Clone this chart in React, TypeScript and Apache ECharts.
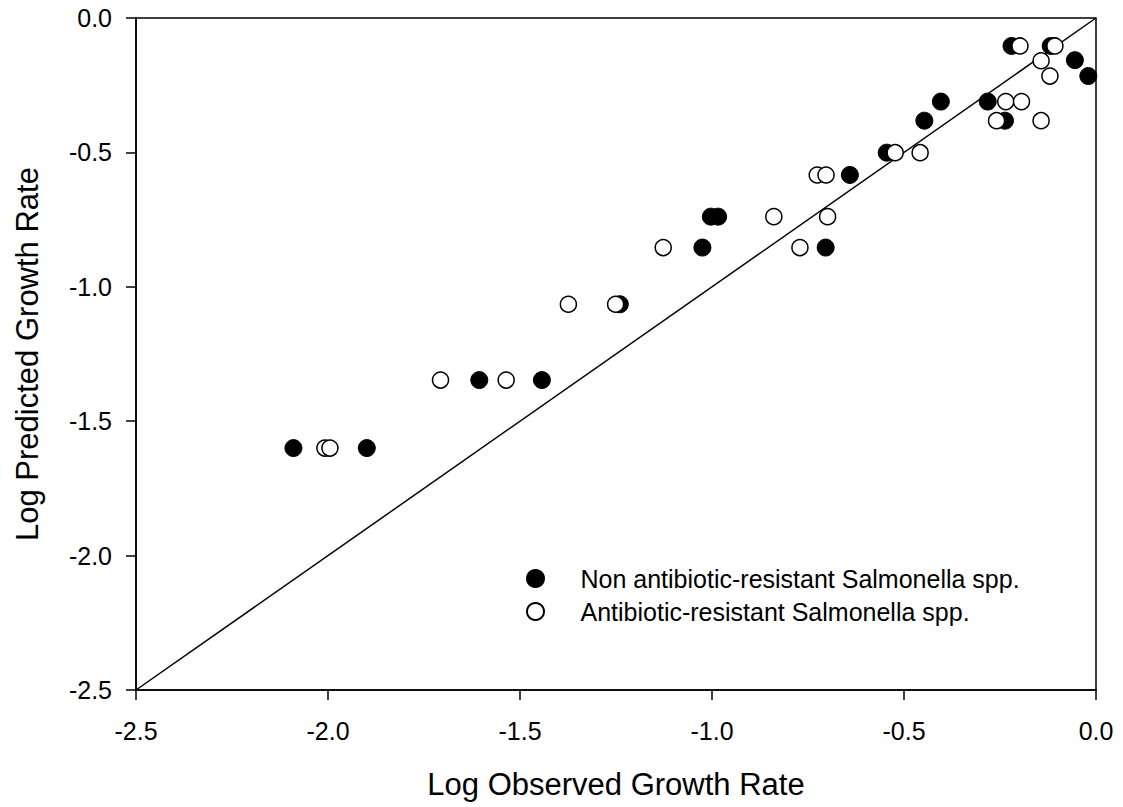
import React, { useEffect, useRef } from "react";
import * as echarts from "echarts";

const nonResistantX = [-2.09, -1.899, -1.606, -1.443, -1.24, -1.025, -0.704, -1.003, -0.984, -0.641, -0.545, -0.447, -0.237, -0.404, -0.282, -0.22, -0.118, -0.055, -0.02];
const nonResistantY = [-1.6, -1.6, -1.347, -1.347, -1.065, -0.854, -0.854, -0.739, -0.739, -0.584, -0.501, -0.382, -0.382, -0.311, -0.311, -0.104, -0.104, -0.157, -0.216];

const resistantX = [-2.008, -1.995, -1.707, -1.536, -1.374, -1.251, -1.127, -0.771, -0.839, -0.699, -0.726, -0.703, -0.523, -0.458, -0.259, -0.143, -0.235, -0.194, -0.12, -0.143, -0.198, -0.107];
const resistantY = [-1.6, -1.6, -1.347, -1.347, -1.065, -1.065, -0.854, -0.854, -0.739, -0.739, -0.584, -0.584, -0.501, -0.501, -0.382, -0.382, -0.311, -0.311, -0.216, -0.159, -0.104, -0.104];

const identityLine = [-2.5, 0];

const seriesNames = ["Non antibiotic-resistant Salmonella spp.", "Antibiotic-resistant Salmonella spp."];
const xTitle = "Log Observed Growth Rate";
const yTitle = "Log Predicted Growth Rate";

const FONT = "Liberation Sans, Arial, sans-serif";

export default function App() {
  const ref = useRef<HTMLDivElement>(null);
  useEffect(() => {
    if (!ref.current) return;
    const chart = echarts.init(ref.current, undefined, { renderer: "svg" });
    const axisCommon = {
      min: -2.5,
      max: 0,
      interval: 0.5,
      axisLine: { show: true, onZero: false, lineStyle: { color: "#000", width: 1.5 } },
      axisTick: { show: true, inside: false, length: 10, lineStyle: { color: "#000", width: 1.5 } },
      splitLine: { show: false },
      nameLocation: "middle" as const,
      nameTextStyle: { color: "#000", fontSize: 31, fontFamily: FONT },
    };
    const labelCommon = {
      color: "#000",
      fontSize: 25,
      fontFamily: FONT,
      formatter: (v: number) => v.toFixed(1),
    };
    chart.setOption({
      animation: false,
      backgroundColor: "#fff",
      grid: {
        left: 136,
        right: 27,
        top: 18,
        bottom: 117,
        show: true,
        borderColor: "#000",
        borderWidth: 1.5,
        backgroundColor: "transparent",
      },
      xAxis: {
        ...axisCommon,
        type: "value",
        name: xTitle,
        nameGap: 79,
        axisLabel: { ...labelCommon, margin: 28 },
      },
      yAxis: {
        ...axisCommon,
        type: "value",
        name: yTitle,
        nameGap: 93,
        axisLabel: { ...labelCommon, margin: 24 },
      },
      legend: {
        left: 521,
        top: 561,
        orient: "vertical",
        itemWidth: 80,
        itemHeight: 17,
        itemGap: 8,
        data: [
          { name: seriesNames[0], icon: "circle" },
          { name: seriesNames[1], icon: "circle" },
        ],
        textStyle: { color: "#000", fontSize: 25, fontFamily: FONT },
      },
      series: [
        {
          type: "line",
          data: identityLine.map((v) => [v, v]),
          symbol: "none",
          lineStyle: { color: "#000", width: 1.5 },
          silent: true,
          z: 1,
        },
        {
          name: seriesNames[0],
          type: "scatter",
          symbol: "circle",
          symbolSize: 17,
          data: nonResistantX.map((x, i) => [x, nonResistantY[i]]),
          itemStyle: { color: "#000", borderColor: "#000", borderWidth: 1, opacity: 1 },
          z: 2,
        },
        {
          name: seriesNames[1],
          type: "scatter",
          symbol: "circle",
          symbolSize: 16,
          data: resistantX.map((x, i) => [x, resistantY[i]]),
          itemStyle: { color: "#fff", borderColor: "#000", borderWidth: 1.5, opacity: 1 },
          z: 3,
        },
      ],
    });
    return () => chart.dispose();
  }, []);
  return <div ref={ref} style={{ width: 1123, height: 807, position: "absolute", left: 0, top: 0 }} />;
}
